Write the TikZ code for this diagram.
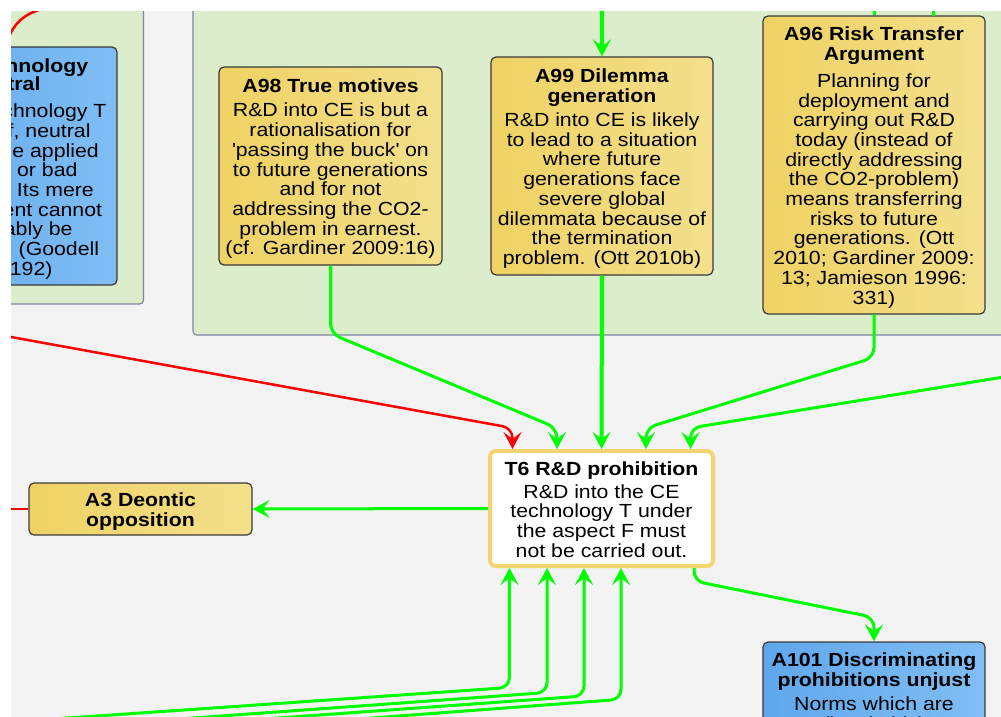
\documentclass[tikz,border=0pt]{standalone}
\usepackage{fontspec}
\setmainfont{Liberation Sans}[FakeStretch=1.12]
\usetikzlibrary{arrows.meta,calc}
\definecolor{bgc}{HTML}{F3F3F3}
\definecolor{panelc}{HTML}{DBEDCA}
\definecolor{panelb}{HTML}{7E84A2}
\definecolor{yl}{HTML}{EFD263}
\definecolor{yr}{HTML}{F4E08D}
\definecolor{bll}{HTML}{5FA7EC}
\definecolor{blr}{HTML}{80BEF4}
\definecolor{gline}{HTML}{00FF00}
\definecolor{rline}{HTML}{FF0000}
\definecolor{tsix}{HTML}{F2D56E}
\definecolor{edgec}{HTML}{3A3A3A}
\newcommand\boxfont{\fontsize{19}{19.7}\selectfont}
\newcommand\tops{\rule{0pt}{19pt}}
\newcommand\bots{\rule[-3.7pt]{0pt}{3.7pt}}
\tikzset{
  argbox/.style={draw=edgec, line width=1.2pt, rounded corners=5pt, left color=yl, right color=yr,
    inner sep=0pt, align=center, font=\boxfont, text=black},
  bluebox/.style={argbox, left color=bll, right color=blr},
  thesisbox/.style={draw=tsix, line width=4pt, fill=white, rounded corners=6pt, inner sep=0pt,
    align=center, font=\boxfont, text=black},
  frag/.style={inner sep=0pt, anchor=mid east, font=\boxfont, text=black},
  supline/.style={draw=gline, line width=3pt, rounded corners=10pt,
    -{Stealth[length=17pt,width=18pt,inset=7pt]}},
  attline/.style={draw=rline, line width=2.5pt, rounded corners=10pt,
    -{Stealth[length=17pt,width=18pt,inset=7pt]}},
  grp/.style={fill=panelc, draw=panelb, line width=1.2pt, rounded corners=4pt},
}
\begin{document}
\begin{tikzpicture}[x=1pt,y=-1pt]
\useasboundingbox (0,0) rectangle (1001,717);
\fill[white] (0,0) rectangle (1001,717);
\begin{scope}
\clip (11,12) rectangle (1001,717);
\fill[bgc] (0,0) rectangle (1001,717);
% group panels
\draw[grp] (-30,-30) rectangle (143.5,304);
\draw[grp] (193,-30) rectangle (1030,335);

% blue box (clipped at left)
\node[bluebox, minimum width=222pt, minimum height=238pt] (A97) at (6,166) {};
\node[frag, font=\boxfont\bfseries] (f1) at (88.3,70) {nnology};
\node[frag, font=\boxfont\bfseries] (f2) at (40.7,88.3) {tral};
\node[frag] (f3) at (106.7,115) {chnology T};
\node[frag] (f4) at (90.7,135) {f, neutral};
\node[frag] (f5) at (99,155) {e applied};
\node[frag] (f6) at (77.7,174.3) {or bad};
\node[frag] (f7) at (94,194.3) {Its mere};
\node[frag] (f8) at (102.3,214.3) {ent cannot};
\node[frag] (f9) at (72.7,233.3) {ably be};
\node[frag] (f10) at (99.3,253.3) {(Goodell};
\node[frag] (f11) at (52.7,273.3) {192)};

% argument boxes
\node[argbox, minimum width=223pt, minimum height=198pt] (A98) at (330.5,166)
  {\tops\textbf{A98 True motives}\\[5pt]
   R\&D into CE is but a\\ rationalisation for\\ \textquotesingle passing the buck\textquotesingle\ on\\
   to future generations\\ and for not\\ addressing the CO2-\\ problem in earnest.\\ (cf. Gardiner 2009:16)\bots};
\node[argbox, minimum width=222pt, minimum height=218pt] (A99) at (602,166)
  {\tops\textbf{A99 Dilemma}\\ \textbf{generation}\\[4.5pt]
   R\&D into CE is likely\\ to lead to a situation\\ where future\\ generations face\\ severe global\\
   dilemmata because of\\ the termination\\ problem. (Ott 2010b)\bots};
\node[argbox, minimum width=222pt, minimum height=298pt] (A96) at (874,165)
  {\tops\textbf{A96 Risk Transfer}\\ \textbf{Argument}\\[7pt]
   Planning for\\ deployment and\\ carrying out R\&D\\ today (instead of\\ directly addressing\\
   the CO2-problem)\\ means transferring\\ risks to future\\ generations. (Ott\\
   2010; Gardiner 2009:\\ 13; Jamieson 1996:\\ 331)\bots};
\node[thesisbox, minimum width=223pt, minimum height=115pt] (T6) at (601.5,508.5)
  {\tops\textbf{T6 R\&D prohibition}\\[3.5pt]
   R\&D into the CE\\ technology T under\\ the aspect F must\\ not be carried out.\bots};
\node[argbox, minimum width=223pt, minimum height=52pt] (A3) at (140.5,509)
  {\tops\textbf{A3 Deontic}\\ \textbf{opposition}\bots};
\node[bluebox, minimum width=222pt, minimum height=98pt] (A101) at (874,691)
  {\tops\textbf{A101 Discriminating}\\ \textbf{prohibitions unjust}\\[5pt]
   Norms which are\\ (inevitably)\bots};

% connectors
\coordinate (topA99) at (602,0);
\draw[supline, line width=4pt] (topA99) -- (A99.north);
\coordinate (topA96) at (874,0);
\draw[draw=gline, line width=3pt] (topA96) -- (A96.north);
\coordinate (topB) at (933,0);
\coordinate (topBe) at (933,16.5);
\draw[draw=gline, line width=3pt] (topB) -- (topBe);
\coordinate (rc1) at (8,40);
\coordinate (rc2) at (42,9);
\draw[draw=rline, line width=2.5pt] (rc1) .. controls (13,24) and (24,14) .. (rc2);

\draw[supline, line width=4pt] (A99.south) -- (T6.north);
\draw[supline] (A98.south) -- ++(0,68) -- ($(T6.north)+(-44.5,-21)$) -- ($(T6.north)+(-44.5,0)$);
\draw[supline] (A96.south) -- ++(0,43) -- ($(T6.north)+(44.5,-21)$) -- ($(T6.north)+(44.5,0)$);
\coordinate (rin) at (1010,376);
\draw[supline] (rin) -- ($(T6.north)+(89,-21)$) -- ($(T6.north)+(89,0)$);
\coordinate (lin) at (0,335);
\draw[attline] (lin) -- ($(T6.north)+(-89,-21)$) -- ($(T6.north)+(-89,0)$);

\draw[supline] (T6.west) -- (A3.east);
\coordinate (la3) at (0,509);
\draw[draw=rline, line width=2.5pt] (la3) -- (A3.west);

\draw[supline] ($(T6.south)+(92.5,0)$) -- ++(0,13) -- ($(A101.north)+(0,-24)$) -- (A101.north);

\coordinate (b1) at (0,722.7);
\coordinate (b2) at (0,731.9);
\coordinate (b3) at (0,738);
\coordinate (b4) at (0,745.9);
\draw[supline] (b1) -- (509.5,687.5) -- ($(T6.south)+(-92,0)$);
\draw[supline] (b2) -- (547,692.5) -- ($(T6.south)+(-54.5,0)$);
\draw[supline] (b3) -- (584,696) -- ($(T6.south)+(-17.5,0)$);
\draw[supline] (b4) -- (621,699.3) -- ($(T6.south)+(19.5,0)$);
\end{scope}
\end{tikzpicture}
\end{document}
